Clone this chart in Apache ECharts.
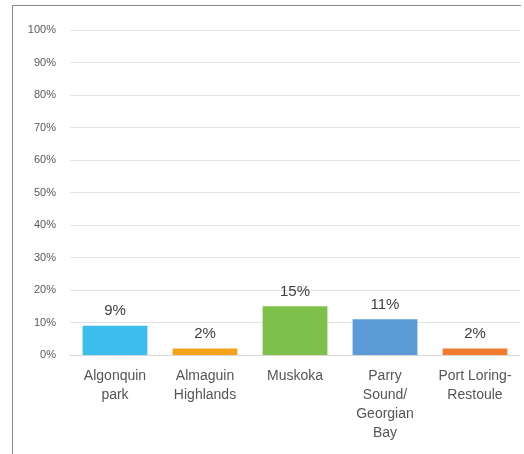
<!DOCTYPE html>
<html><head><meta charset="utf-8">
<script src="https://cdn.jsdelivr.net/npm/echarts@6/dist/echarts.min.js"></script>
<style>
html,body{margin:0;padding:0;background:#fff;}
#frame{position:absolute;left:12px;top:5px;width:508px;height:460px;border-left:1.5px solid #8a8a8a;border-top:1.5px solid #8a8a8a;}
#c{position:absolute;left:0;top:0;width:524px;height:454px;}
</style></head>
<body>
<div id="frame"></div>
<div id="c"></div>
<script>
var categories = ["Algonquin\npark", "Almaguin\nHighlands", "Muskoka", "Parry\nSound/\nGeorgian\nBay", "Port Loring-\nRestoule"];
var values = [9, 2, 15, 11, 2];
var barColors = ["#3dbdec", "#f5a21b", "#7dc04a", "#5a9ad6", "#f07b2e"];

var chart = echarts.init(document.getElementById('c'), null, {renderer:'canvas'});
chart.setOption({
  animation:false,
  grid:{left:70, right:4, top:30, bottom:99, containLabel:false},
  xAxis:{type:'category', data:categories,
    axisLine:{show:true, lineStyle:{color:'#d9d9d9', width:1}},
    axisTick:{show:false},
    axisLabel:{color:'#555', fontSize:14, fontFamily:'Liberation Sans, Arial, sans-serif', lineHeight:19, margin:12, interval:0}
  },
  yAxis:{type:'value', min:0, max:100, interval:10,
    axisLabel:{formatter:'{value}%', color:'#595959', fontSize:11, fontFamily:'Liberation Sans, Arial, sans-serif', margin:14},
    axisLine:{show:false}, axisTick:{show:false},
    splitLine:{lineStyle:{color:'#e3e3e3', width:1}}
  },
  series:[{type:'bar', barCategoryGap:'28%',
    data: values.map(function(v,i){return {value:v, itemStyle:{color:barColors[i]}};}),
    label:{show:true, position:'top', formatter:'{c}%', color:'#404040', fontSize:15, fontFamily:'Liberation Sans, Arial, sans-serif', distance:7}
  }]
});
</script>
</body></html>
